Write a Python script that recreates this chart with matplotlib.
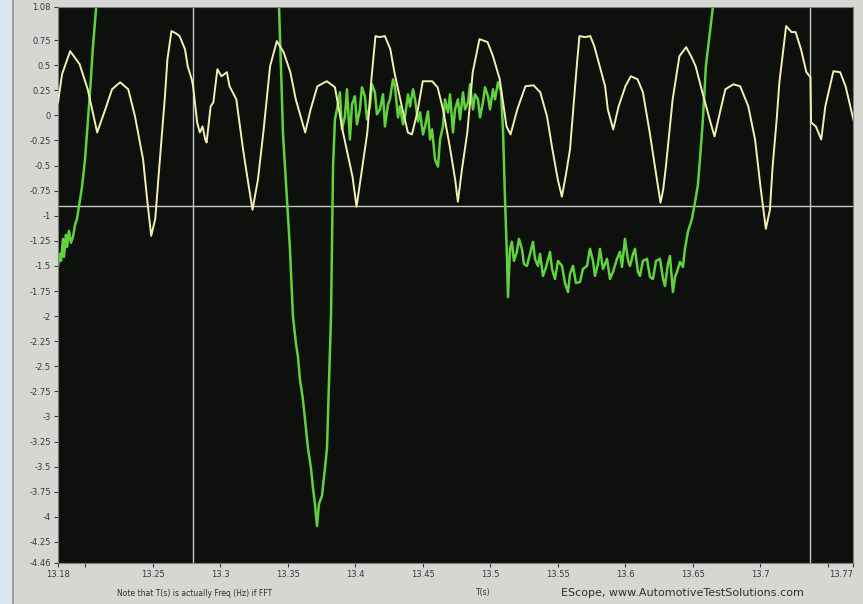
"""
EScope capture: two scope channels (yellow and green) vs time, black plot area with cursors.
"""
# %%
import matplotlib
matplotlib.use("Agg")
import matplotlib.pyplot as plt
from matplotlib.patches import Rectangle

# yellow channel (time in s, value)
yellow_t = [13.180, 13.183, 13.189, 13.196, 13.202, 13.209, 13.215, 13.220, 13.226, 13.232,
            13.237, 13.243, 13.246, 13.249, 13.252, 13.255, 13.259, 13.261, 13.264, 13.267,
            13.270, 13.274, 13.276, 13.279, 13.280, 13.283, 13.285, 13.287, 13.289, 13.290,
            13.293, 13.295, 13.298, 13.301, 13.305, 13.307, 13.312, 13.317, 13.321, 13.324,
            13.328, 13.332, 13.337, 13.342, 13.347, 13.352, 13.356, 13.363, 13.367, 13.372,
            13.379, 13.385, 13.391, 13.398, 13.401, 13.405, 13.409, 13.412, 13.415, 13.418,
            13.422, 13.426, 13.429, 13.435, 13.439, 13.442, 13.446, 13.450, 13.457, 13.461,
            13.465, 13.470, 13.474, 13.476, 13.479, 13.483, 13.487, 13.492, 13.498, 13.502,
            13.507, 13.512, 13.515, 13.520, 13.526, 13.532, 13.537, 13.542, 13.546, 13.550,
            13.553, 13.556, 13.559, 13.562, 13.564, 13.566, 13.570, 13.574, 13.577, 13.581,
            13.585, 13.587, 13.591, 13.595, 13.600, 13.604, 13.609, 13.613, 13.618, 13.623,
            13.626, 13.628, 13.630, 13.635, 13.640, 13.645, 13.649, 13.652, 13.657, 13.663,
            13.666, 13.670, 13.674, 13.680, 13.685, 13.691, 13.696, 13.700, 13.704, 13.707,
            13.709, 13.712, 13.714, 13.719, 13.723, 13.726, 13.730, 13.734, 13.737, 13.7375,
            13.741, 13.745, 13.748, 13.754, 13.759, 13.763, 13.767, 13.770]
yellow_v = [0.13, 0.41, 0.64, 0.51, 0.26, -0.17, 0.06, 0.26, 0.33, 0.26,
            -0.01, -0.44, -0.84, -1.20, -1.03, -0.51, 0.16, 0.56, 0.84, 0.82,
            0.79, 0.66, 0.49, 0.36, 0.29, -0.07, -0.17, -0.11, -0.24, -0.27,
            0.09, 0.13, 0.46, 0.39, 0.43, 0.29, 0.16, -0.34, -0.69, -0.94,
            -0.64, -0.17, 0.49, 0.74, 0.63, 0.43, 0.16, -0.17, 0.06, 0.29,
            0.34, 0.28, -0.17, -0.61, -0.91, -0.54, -0.17, 0.36, 0.79, 0.78,
            0.79, 0.66, 0.43, 0.06, -0.17, -0.19, 0.03, 0.34, 0.34, 0.28,
            0.06, -0.31, -0.64, -0.86, -0.54, -0.17, 0.43, 0.76, 0.73, 0.59,
            0.36, -0.11, -0.19, 0.06, 0.29, 0.30, 0.23, -0.01, -0.34, -0.64,
            -0.81, -0.59, -0.34, 0.16, 0.49, 0.79, 0.78, 0.79, 0.69, 0.49,
            0.29, 0.06, -0.14, 0.09, 0.29, 0.39, 0.36, 0.23, -0.17, -0.61,
            -0.87, -0.74, -0.51, 0.16, 0.59, 0.68, 0.58, 0.49, 0.23, -0.07,
            -0.21, 0.03, 0.26, 0.31, 0.29, 0.09, -0.24, -0.71, -1.13, -0.94,
            -0.51, -0.04, 0.33, 0.89, 0.83, 0.83, 0.66, 0.43, 0.38, -0.07,
            -0.11, -0.24, 0.09, 0.44, 0.43, 0.29, 0.06, -0.11]

# green channel (goes off the top of the screen twice)
green_t = [13.1800, 13.1815, 13.1822, 13.1837, 13.1844, 13.1859, 13.1867, 13.1881, 13.1896, 13.1911,
           13.1926, 13.1941, 13.1963, 13.1978, 13.2000, 13.2015, 13.2037, 13.2059, 13.2081, 13.2096,
           13.2105, 13.3420,
           13.3436, 13.3451, 13.3465, 13.3495, 13.3517, 13.3539, 13.3562, 13.3576, 13.3591, 13.3613,
           13.3628, 13.3651, 13.3673, 13.3688, 13.3702, 13.3717, 13.3732, 13.3754, 13.3776, 13.3791,
           13.3806, 13.3821, 13.3828, 13.3836, 13.3850, 13.3865,
           13.3887, 13.3902, 13.3924, 13.3939, 13.3961, 13.3976, 13.3998, 13.4013, 13.4035, 13.4050,
           13.4072, 13.4087, 13.4109, 13.4124, 13.4146, 13.4161, 13.4183, 13.4206, 13.4220, 13.4243,
           13.4257, 13.4280, 13.4294, 13.4317, 13.4331, 13.4354, 13.4369, 13.4391, 13.4406, 13.4428,
           13.4443, 13.4465, 13.4480, 13.4502, 13.4517, 13.4539, 13.4554, 13.4569, 13.4591, 13.4613,
           13.4628, 13.4650, 13.4665, 13.4687, 13.4702, 13.4724, 13.4739, 13.4761, 13.4776, 13.4798,
           13.4813, 13.4835, 13.4850, 13.4872, 13.4887, 13.4909, 13.4924, 13.4946, 13.4961, 13.4983,
           13.4998, 13.5020, 13.5035, 13.5057, 13.5079, 13.5094, 13.5109, 13.5124, 13.5131, 13.5146,
           13.5160, 13.5175, 13.5197, 13.5212, 13.5234, 13.5249, 13.5271, 13.5294, 13.5316, 13.5331,
           13.5353, 13.5368, 13.5390, 13.5413, 13.5442, 13.5457, 13.5479, 13.5501, 13.5531, 13.5553,
           13.5575, 13.5590, 13.5612, 13.5634, 13.5664, 13.5686, 13.5716, 13.5738, 13.5760, 13.5775,
           13.5797, 13.5812, 13.5834, 13.5864, 13.5886, 13.5908, 13.5938, 13.5960, 13.5975, 13.5997,
           13.6020, 13.6034, 13.6057, 13.6071, 13.6093, 13.6108, 13.6130, 13.6160, 13.6182, 13.6204,
           13.6227, 13.6256, 13.6279, 13.6293, 13.6315, 13.6330, 13.6352, 13.6367, 13.6382, 13.6404,
           13.6426, 13.6441, 13.6463, 13.6493, 13.6515, 13.6537, 13.6552, 13.6574, 13.6596, 13.6626,
           13.6648, 13.6663]
green_v = [-1.50, -1.38, -1.45, -1.23, -1.41, -1.19, -1.31, -1.15, -1.27, -1.21,
           -1.09, -1.03, -0.84, -0.71, -0.44, -0.17, 0.23, 0.69, 1.05, 1.35,
           1.50, 1.50,
           1.08, 0.46, -0.17, -0.84, -1.33, -2.00, -2.28, -2.40, -2.63, -2.83,
           -3.02, -3.32, -3.52, -3.72, -3.87, -4.09, -3.87, -3.79, -3.52, -3.32,
           -2.66, -2.00, -1.33, -0.51, -0.04, 0.06,
           0.23, -0.14, -0.01, 0.26, -0.24, 0.11, 0.19, -0.09, 0.06, 0.28,
           0.19, -0.04, 0.09, 0.31, 0.23, 0.01, 0.06, 0.21, -0.11, 0.11,
           0.16, 0.36, 0.29, -0.02, 0.09, -0.09, -0.01, 0.21, 0.09, 0.26,
           0.16, -0.06, 0.03, -0.19, -0.11, 0.04, -0.24, -0.14, -0.44, -0.51,
           -0.24, -0.11, 0.16, 0.03, 0.21, -0.17, 0.06, 0.16, -0.04, 0.23,
           0.06, 0.13, 0.31, 0.06, 0.21, 0.16, -0.02, 0.13, 0.28, 0.19,
           0.06, 0.26, 0.16, 0.33, 0.24, -0.14, -0.84, -1.43, -1.81, -1.33,
           -1.26, -1.45, -1.36, -1.23, -1.33, -1.48, -1.50, -1.38, -1.26, -1.43,
           -1.50, -1.38, -1.60, -1.51, -1.36, -1.53, -1.63, -1.45, -1.50, -1.67,
           -1.76, -1.58, -1.50, -1.67, -1.66, -1.53, -1.50, -1.33, -1.45, -1.60,
           -1.48, -1.33, -1.53, -1.43, -1.63, -1.56, -1.43, -1.36, -1.51, -1.23,
           -1.45, -1.50, -1.38, -1.33, -1.56, -1.60, -1.45, -1.43, -1.61, -1.63,
           -1.45, -1.43, -1.63, -1.70, -1.48, -1.40, -1.76, -1.61, -1.56, -1.46,
           -1.51, -1.33, -1.16, -1.03, -0.87, -0.69, -0.44, -0.04, 0.49, 0.83,
           1.08, 1.35]

# axis ticks as drawn by the scope software
y_ticks = [1.08, 0.75, 0.5, 0.25, 0, -0.25, -0.5, -0.75, -1, -1.25, -1.5, -1.75, -2, -2.25,
           -2.5, -2.75, -3, -3.25, -3.5, -3.75, -4, -4.25, -4.46]
y_labels = ["1.08", "0.75", "0.5", "0.25", "0", "-0.25", "-0.5", "-0.75", "-1", "-1.25",
            "-1.5", "-1.75", "-2", "-2.25", "-2.5", "-2.75", "-3", "-3.25", "-3.5", "-3.75",
            "-4", "-4.25", "-4.46"]
x_ticks = [13.18, 13.2, 13.25, 13.3, 13.35, 13.4, 13.45, 13.5, 13.55, 13.6, 13.65, 13.7, 13.75, 13.7685]
x_labels = ["13.18", "", "13.25", "13.3", "13.35", "13.4", "13.45", "13.5", "13.55", "13.6",
            "13.65", "13.7", "", "13.77"]

# cursor positions
cursor_t = [13.28, 13.737]
cursor_v = -0.9

# %%
fig = plt.figure(figsize=(8.63, 6.04), dpi=100, facecolor="#d6d6d2")
ax = fig.add_axes([58 / 863, 41 / 604, 795 / 863, 556 / 604])
ax.set_facecolor("#0d100d")

# photo border bits (screen edge on the left)
fig.patches.append(Rectangle((0, 0), 12 / 863, 1, transform=fig.transFigure,
                             facecolor="#dce7f2", edgecolor="none", zorder=0))
fig.patches.append(Rectangle((12 / 863, 0), 2 / 863, 1, transform=fig.transFigure,
                             facecolor="#9c9c9c", edgecolor="none", zorder=0))

# cursors
for ct in cursor_t:
    ax.axvline(ct, color="#c8c8c8", lw=1.0, zorder=1)
ax.axhline(cursor_v, color="#c8c8c8", lw=1.0, zorder=1)

ax.plot(green_t, green_v, color="#5fd23c", lw=1.8, zorder=2)
ax.plot(yellow_t, yellow_v, color="#f4efb0", lw=1.4, zorder=3)

ax.set_xlim(13.18, 13.7685)
ax.set_ylim(-4.46, 1.08)
ax.set_yticks(y_ticks)
ax.set_yticklabels(y_labels)
ax.set_xticks(x_ticks)
ax.set_xticklabels(x_labels)
ax.tick_params(axis="both", labelsize=6, colors="#3a3a3a", length=3, width=0.8, pad=2)
# last time label sits flush against the right edge
ax.get_xticklabels()[-1].set_horizontalalignment("right")
for s in ax.spines.values():
    s.set_color("#808080")
    s.set_linewidth(0.8)

# footer texts
fig.text(195 / 863, 1 - 593 / 604, "Note that T(s) is actually Freq (Hz) if FFT",
         fontsize=5.5, color="#303030", ha="center", va="center")
fig.text(483 / 863, 1 - 593 / 604, "T(s)", fontsize=5.5, color="#303030", ha="center", va="center")
fig.text(682 / 863, 1 - 593 / 604, "EScope, www.AutomotiveTestSolutions.com",
         fontsize=8, color="#303030", ha="center", va="center")

fig.savefig("out.png", dpi=100, facecolor=fig.get_facecolor())
